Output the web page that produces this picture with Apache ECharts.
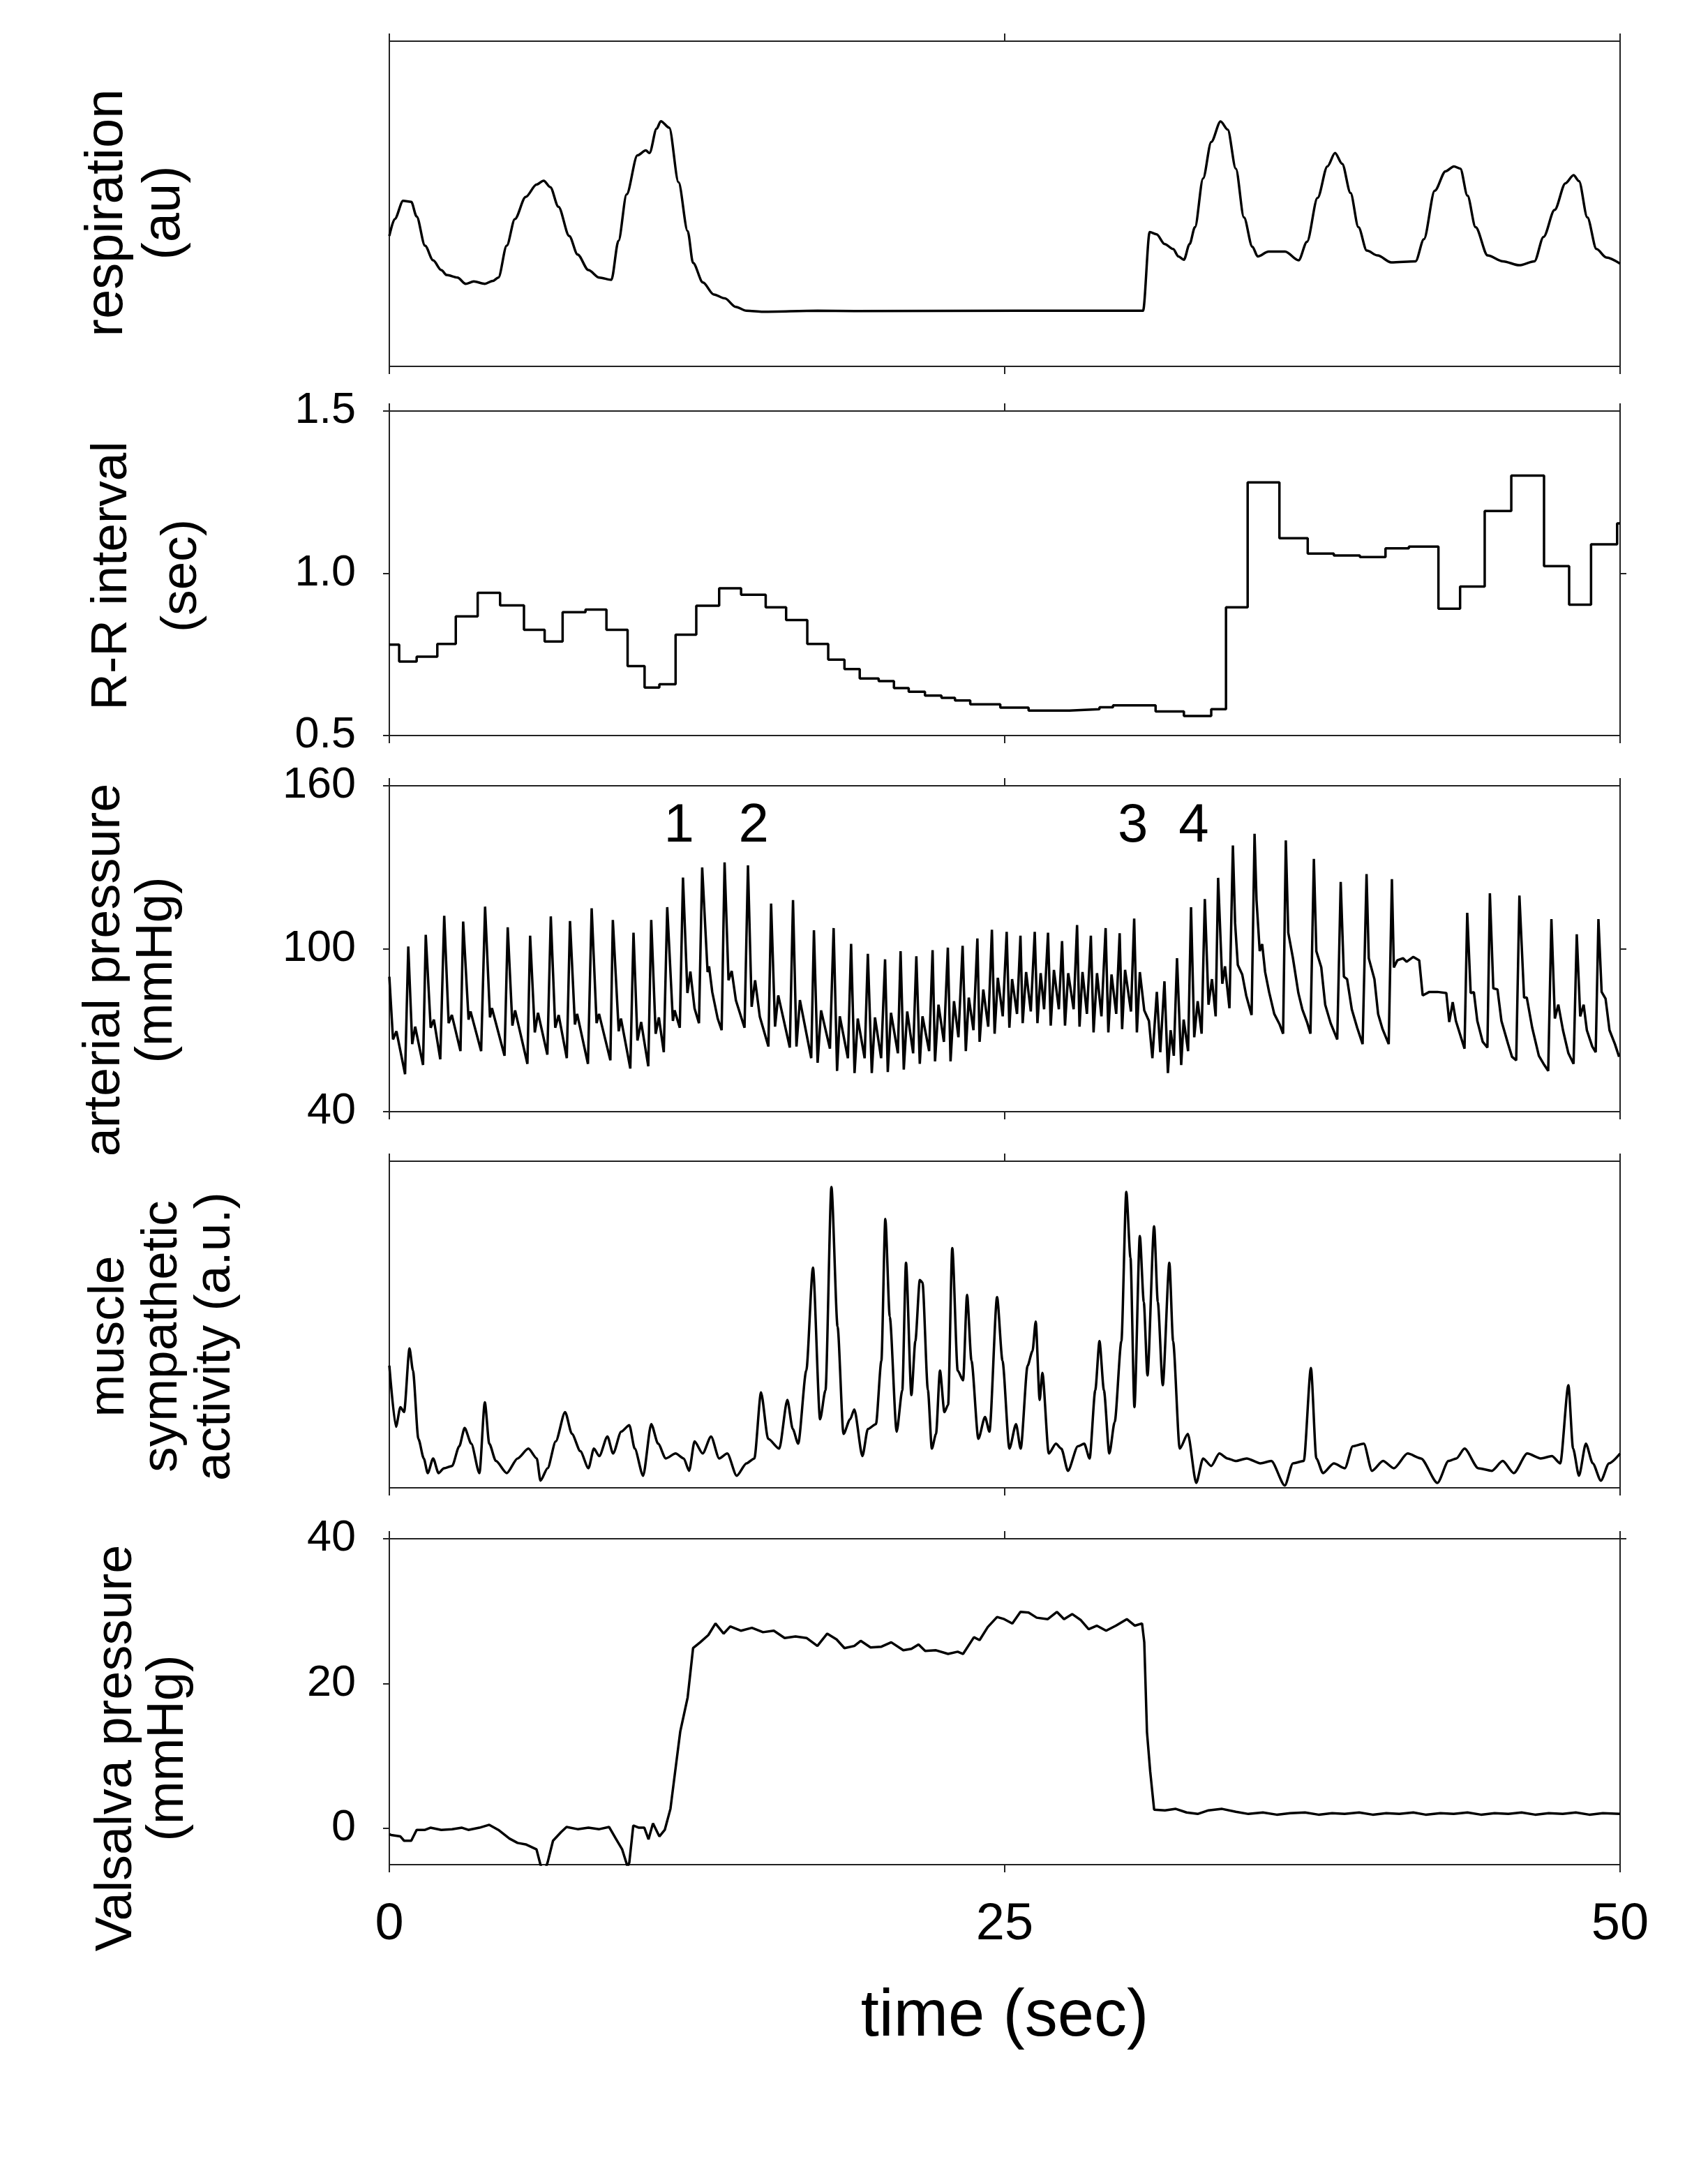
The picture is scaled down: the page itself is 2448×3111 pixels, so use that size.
<!DOCTYPE html>
<html><head><meta charset="utf-8">
<script src="https://cdn.jsdelivr.net/npm/echarts@6/dist/echarts.min.js"></script>
<style>html,body{margin:0;padding:0;background:#fff}#chart{width:2448px;height:3111px}</style>
</head><body><div id="chart"></div>
<script>
// ---------------- DATA (time in s, value) ----------------
const respiration = [[0,40.1],[0.22,45.3],[0.56,50.9],[0.89,50.6],[1.11,46.1],[1.45,37.1],[1.78,32.6],[2.11,29.6],[2.33,28.1],[2.77,27.3],[3.10,25.4],[3.43,26.1],[3.88,25.4],[4.21,26.3],[4.43,27.3],[4.77,37.1],[5.10,45.3],[5.54,52.1],[5.98,55.9],[6.27,57.1],[6.54,55.1],[6.87,49.1],[7.31,40.1],[7.65,34.4],[8.09,29.6],[8.53,27.3],[9.02,26.6],[9.31,38.6],[9.64,52.9],[10.08,64.9],[10.42,66.4],[10.57,65.6],[10.86,73.1],[11.03,75.4],[11.37,73.4],[11.75,56.6],[12.12,41.6],[12.34,31.8],[12.74,25.8],[13.18,22.1],[13.63,20.9],[14.07,18.3],[14.51,17.1],[15.18,16.8],[17.39,17.1],[18.89,17.0],[25.53,17.1],[30.62,17.1],[30.89,41.3],[31.17,40.6],[31.50,37.6],[31.84,36.1],[32.06,33.8],[32.28,32.8],[32.51,37.6],[32.73,42.8],[33.06,57.8],[33.39,69.0],[33.77,75.3],[34.06,72.8],[34.39,60.8],[34.72,45.8],[35.06,36.8],[35.28,33.8],[35.72,35.3],[36.39,35.3],[36.94,32.6],[37.28,38.3],[37.71,51.8],[38.11,61.5],[38.42,65.6],[38.71,62.3],[39.05,53.3],[39.37,42.8],[39.71,35.6],[40.15,34.1],[40.70,32.0],[41.69,32.3],[42.03,39.1],[42.47,54.0],[42.91,60.0],[43.25,61.5],[43.51,60.8],[43.80,52.5],[44.13,42.8],[44.62,34.1],[45.24,32.3],[45.90,31.1],[46.52,32.3],[46.89,39.8],[47.34,48.1],[47.78,56.3],[48.11,58.8],[48.33,57.0],[48.67,45.8],[49.04,36.1],[49.44,33.5],[50.00,31.6]];

// R-R interval: [start time of beat interval, interval (s)]
const rrInterval = [[0,0.780],[0.40,0.728],[1.11,0.743],[1.95,0.782],[2.70,0.867],[3.59,0.940],[4.50,0.901],[5.47,0.826],[6.31,0.790],[7.04,0.880],[7.97,0.888],[8.82,0.826],[9.68,0.714],[10.37,0.648],[10.97,0.658],[11.63,0.811],[12.47,0.900],[13.40,0.954],[14.29,0.934],[15.29,0.895],[16.12,0.856],[16.98,0.782],[17.83,0.734],[18.49,0.705],[19.11,0.676],[19.88,0.668],[20.50,0.646],[21.10,0.635],[21.76,0.623],[22.43,0.616],[22.98,0.608],[23.60,0.596],[24.82,0.586],[25.97,0.577],[27.63,0.581],[28.85,0.587],[29.40,0.593],[31.13,0.574],[32.28,0.560],[33.39,0.581],[33.99,0.895],[34.87,1.280],[36.16,1.108],[37.31,1.061],[38.37,1.055],[39.43,1.050],[40.47,1.077],[41.42,1.082],[42.62,0.891],[43.50,0.959],[44.50,1.192],[45.58,1.301],[46.91,1.022],[47.93,0.903],[48.82,1.089],[49.88,1.154],[50,1.154]];

const arterialPressure = [[0.00,89.7],[0.15,66.6],[0.29,69.6],[0.64,53.8],[0.77,100.8],[0.93,64.9],[1.05,71.3],[1.37,57.2],[1.48,105.1],[1.68,70.9],[1.81,73.9],[2.07,59.3],[2.23,112.1],[2.41,72.6],[2.54,75.6],[2.89,62.3],[3.00,110.0],[3.22,73.9],[3.30,76.9],[3.73,62.3],[3.89,115.5],[4.09,74.7],[4.17,78.1],[4.68,60.6],[4.81,107.9],[5.00,71.7],[5.11,77.3],[5.61,57.6],[5.72,104.8],[5.91,69.2],[6.04,76.4],[6.42,61.0],[6.56,111.9],[6.74,70.9],[6.88,75.6],[7.21,59.7],[7.34,110.2],[7.54,72.1],[7.63,76.0],[8.07,57.6],[8.22,114.9],[8.42,72.6],[8.52,76.0],[8.98,58.9],[9.08,110.6],[9.32,69.6],[9.41,74.3],[9.79,55.9],[9.92,105.9],[10.08,66.2],[10.23,73.0],[10.52,56.7],[10.64,110.6],[10.82,68.7],[10.95,74.7],[11.15,61.9],[11.29,115.3],[11.52,73.4],[11.59,77.3],[11.80,70.9],[11.93,126.2],[12.11,83.7],[12.23,91.6],[12.40,78.0],[12.58,72.6],[12.71,129.9],[12.93,91.4],[12.99,93.5],[13.12,84.0],[13.34,74.3],[13.50,70.0],[13.62,131.8],[13.78,88.4],[13.91,91.8],[14.08,81.0],[14.43,70.9],[14.57,130.7],[14.72,78.6],[14.86,88.4],[15.05,75.0],[15.40,64.0],[15.51,116.6],[15.67,71.3],[15.80,82.8],[16.27,63.6],[16.40,117.9],[16.54,64.0],[16.68,81.1],[17.14,59.7],[17.25,106.8],[17.40,58.0],[17.54,77.3],[17.90,63.2],[18.05,107.6],[18.19,55.0],[18.30,75.1],[18.63,59.7],[18.76,101.8],[18.90,54.2],[19.03,74.3],[19.31,59.7],[19.44,98.1],[19.60,54.2],[19.73,74.7],[19.98,59.7],[20.14,96.1],[20.25,54.6],[20.38,76.4],[20.66,61.5],[20.77,99.1],[20.90,55.5],[21.04,76.9],[21.28,61.5],[21.41,97.2],[21.55,57.6],[21.66,75.1],[21.93,62.3],[22.07,99.5],[22.17,58.5],[22.31,79.4],[22.53,65.7],[22.69,100.4],[22.80,58.5],[22.94,80.7],[23.12,67.4],[23.29,101.1],[23.42,62.3],[23.54,82.0],[23.73,70.0],[23.89,103.8],[23.98,65.7],[24.13,85.0],[24.33,71.3],[24.48,107.0],[24.59,68.7],[24.72,89.3],[24.92,75.1],[25.08,106.2],[25.19,70.9],[25.30,88.8],[25.50,76.0],[25.64,104.8],[25.73,72.6],[25.87,91.4],[26.06,76.9],[26.22,106.2],[26.33,72.6],[26.46,91.0],[26.60,77.7],[26.76,105.9],[26.87,71.7],[27.00,92.2],[27.20,77.7],[27.33,102.8],[27.45,71.7],[27.58,91.0],[27.80,77.7],[27.94,108.7],[28.04,71.3],[28.16,91.4],[28.34,76.0],[28.50,104.8],[28.61,69.2],[28.75,91.0],[28.93,75.1],[29.10,107.6],[29.21,69.2],[29.34,90.5],[29.53,76.0],[29.67,105.7],[29.77,70.4],[29.89,92.2],[30.13,76.9],[30.26,111.1],[30.37,69.2],[30.49,91.4],[30.67,77.3],[30.86,73.4],[31.00,59.7],[31.18,84.1],[31.32,61.9],[31.49,88.0],[31.63,54.2],[31.74,70.0],[31.87,60.6],[32.00,96.5],[32.17,57.2],[32.27,73.9],[32.45,62.3],[32.57,115.3],[32.70,67.4],[32.84,80.7],[33.00,68.7],[33.13,118.3],[33.28,79.4],[33.42,88.8],[33.57,75.1],[33.67,126.1],[33.84,87.1],[33.95,93.5],[34.13,78.1],[34.27,138.0],[34.36,109.4],[34.47,94.0],[34.65,90.5],[34.81,82.8],[35.03,75.6],[35.15,142.3],[35.23,117.9],[35.36,99.1],[35.46,101.7],[35.58,91.4],[35.74,84.1],[35.95,76.0],[36.17,72.1],[36.31,68.7],[36.42,139.9],[36.52,105.9],[36.71,96.5],[36.93,83.7],[37.09,77.7],[37.28,73.0],[37.42,68.7],[37.56,133.1],[37.66,99.1],[37.86,93.2],[38.02,79.4],[38.24,72.6],[38.51,66.6],[38.65,124.6],[38.78,89.7],[38.91,88.8],[39.10,77.7],[39.32,70.9],[39.54,64.9],[39.70,127.5],[39.79,96.5],[40.02,88.8],[40.17,76.0],[40.35,70.4],[40.60,64.9],[40.73,125.6],[40.81,93.1],[40.95,95.7],[41.18,96.5],[41.33,95.2],[41.60,97.0],[41.84,95.7],[41.98,82.8],[42.25,84.1],[42.58,84.1],[42.94,83.7],[43.06,73.0],[43.20,80.3],[43.33,73.4],[43.68,63.2],[43.79,113.2],[43.93,83.7],[44.06,84.0],[44.20,73.4],[44.42,65.7],[44.61,63.6],[44.71,120.4],[44.85,85.4],[45.02,85.0],[45.18,73.4],[45.45,64.9],[45.61,60.2],[45.78,58.9],[45.91,119.6],[46.10,82.0],[46.21,82.0],[46.43,70.9],[46.70,60.6],[46.92,57.2],[47.08,55.0],[47.21,110.9],[47.35,74.3],[47.49,79.4],[47.68,70.0],[47.90,61.5],[48.11,57.6],[48.24,105.3],[48.38,75.1],[48.52,79.4],[48.65,70.0],[48.87,64.0],[49.01,61.9],[49.12,110.9],[49.25,84.1],[49.41,81.6],[49.57,70.0],[49.79,64.9],[49.96,60.2]];

// beat labels on the arterial pressure trace: [time, mmHg, label]
const pressureMarks = [[11.77,145,'1'],[14.80,145,'2'],[30.21,145,'3'],[32.68,145,'4']];

const sympatheticActivity = [[0,37.4],[0.27,18.7],[0.45,24.7],[0.60,23.2],[0.82,42.7],[0.96,35.9],[1.18,15.0],[1.40,9.0],[1.56,4.5],[1.78,9.0],[2.00,4.5],[2.22,6.0],[2.55,6.7],[2.84,12.7],[3.06,18.3],[3.33,13.5],[3.66,4.5],[3.88,26.2],[4.06,13.5],[4.33,8.2],[4.77,4.5],[5.21,9.0],[5.65,12.0],[5.99,9.0],[6.14,2.2],[6.43,6.0],[6.76,14.2],[7.14,23.2],[7.42,16.5],[7.76,11.2],[8.09,6.0],[8.31,12.0],[8.53,9.7],[8.86,15.7],[9.09,10.5],[9.42,17.2],[9.75,19.2],[9.97,12.0],[10.31,3.7],[10.64,19.5],[10.92,13.5],[11.23,9.0],[11.63,10.5],[11.96,9.0],[12.18,5.2],[12.40,14.2],[12.73,10.5],[13.07,15.7],[13.40,9.0],[13.73,10.5],[14.11,3.7],[14.51,7.5],[14.83,9.0],[15.10,29.2],[15.39,15.0],[15.84,12.0],[16.17,26.9],[16.39,18.0],[16.61,13.5],[16.94,35.9],[17.21,67.4],[17.50,21.0],[17.72,29.9],[17.96,92.1],[18.21,49.4],[18.45,16.5],[18.72,21.0],[18.89,24.0],[19.22,9.7],[19.44,18.0],[19.77,19.5],[19.99,38.9],[20.15,82.3],[20.33,52.4],[20.61,17.2],[20.84,29.9],[20.99,68.9],[21.21,28.4],[21.37,44.9],[21.55,63.6],[21.66,62.9],[21.88,29.9],[22.04,12.0],[22.21,16.5],[22.37,35.9],[22.55,23.2],[22.70,25.4],[22.87,73.4],[23.09,35.9],[23.31,32.9],[23.47,59.1],[23.65,38.9],[23.93,15.0],[24.20,21.7],[24.38,17.2],[24.69,58.4],[24.91,38.9],[25.19,12.0],[25.46,19.5],[25.65,12.0],[25.93,37.4],[26.13,41.9],[26.26,50.9],[26.42,26.9],[26.53,35.2],[26.79,10.5],[27.08,13.5],[27.30,12.0],[27.57,5.2],[27.97,12.7],[28.23,13.5],[28.45,9.0],[28.68,29.9],[28.85,44.9],[29.03,29.9],[29.25,10.5],[29.47,20.2],[29.74,44.9],[29.94,90.6],[30.11,70.4],[30.27,24.7],[30.49,77.1],[30.65,56.9],[30.80,34.4],[31.07,80.1],[31.22,56.9],[31.42,31.4],[31.69,68.9],[31.84,44.9],[32.11,12.0],[32.44,16.5],[32.78,1.5],[33.06,9.0],[33.39,6.7],[33.72,10.5],[34.05,9.0],[34.39,8.2],[34.83,9.0],[35.39,7.5],[35.83,8.2],[36.38,0.7],[36.71,7.5],[37.15,8.2],[37.44,36.7],[37.66,9.0],[37.93,4.5],[38.37,7.5],[38.82,6.0],[39.14,12.7],[39.59,13.5],[39.92,5.2],[40.37,8.2],[40.81,6.0],[41.37,10.5],[41.91,9.0],[42.58,1.5],[43.03,8.2],[43.35,9.0],[43.68,12.0],[44.24,6.0],[44.79,5.2],[45.23,8.2],[45.68,4.5],[46.23,10.5],[46.78,9.0],[47.23,9.7],[47.57,7.5],[47.90,31.4],[48.09,12.0],[48.33,3.7],[48.61,13.5],[48.89,7.5],[49.22,2.2],[49.55,7.5],[50.00,10.5]];

const valsalvaPressure = [[0,-0.8],[0.07,-0.9],[0.45,-1.1],[0.60,-1.7],[0.89,-1.7],[1.11,-0.2],[1.45,-0.2],[1.67,0.1],[2.11,-0.2],[2.55,-0.1],[2.95,0.1],[3.21,-0.2],[3.66,0.1],[4.06,0.5],[4.43,-0.2],[4.88,-1.4],[5.21,-2.0],[5.54,-2.2],[5.98,-2.9],[6.14,-5.0],[6.27,-6.2],[6.43,-4.7],[6.65,-1.7],[6.98,-0.5],[7.20,0.2],[7.65,-0.1],[8.09,0.1],[8.53,-0.1],[8.93,0.2],[9.20,-1.4],[9.46,-2.9],[9.68,-5.3],[9.75,-4.7],[9.91,0.4],[10.14,0.1],[10.36,0.1],[10.53,-1.5],[10.71,0.7],[10.97,-1.1],[11.19,-0.2],[11.42,2.7],[11.64,8.6],[11.82,13.4],[12.12,18.1],[12.34,24.9],[12.63,25.7],[12.96,26.7],[13.25,28.3],[13.58,26.9],[13.85,27.9],[14.29,27.3],[14.73,27.7],[15.18,27.1],[15.62,27.3],[16.06,26.3],[16.50,26.5],[16.95,26.3],[17.39,25.2],[17.79,26.9],[18.17,26.1],[18.49,24.9],[18.89,25.2],[19.15,25.9],[19.55,25.0],[19.99,25.1],[20.39,25.7],[20.88,24.6],[21.21,24.8],[21.50,25.4],[21.77,24.5],[22.21,24.6],[22.70,24.1],[23.09,24.4],[23.31,24.1],[23.75,26.4],[23.98,26.0],[24.31,27.8],[24.69,29.2],[24.98,28.9],[25.31,28.3],[25.64,29.9],[25.97,29.8],[26.30,29.1],[26.75,28.9],[27.12,29.9],[27.41,28.9],[27.74,29.6],[28.08,28.8],[28.41,27.5],[28.74,28.0],[29.12,27.3],[29.52,28.0],[29.96,28.9],[30.29,28.0],[30.58,28.3],[30.67,25.7],[30.78,13.3],[30.91,7.9],[31.07,2.6],[31.51,2.5],[31.95,2.7],[32.39,2.2],[32.84,2.0],[33.28,2.5],[33.83,2.7],[34.39,2.3],[34.90,2.0],[35.49,2.2],[36.05,1.9],[36.60,2.1],[37.20,2.2],[37.75,1.9],[38.30,2.1],[38.81,2.0],[39.40,2.2],[39.95,1.9],[40.50,2.1],[41.03,2.0],[41.60,2.2],[42.10,1.9],[42.70,2.1],[43.24,2.0],[43.80,2.2],[44.35,1.9],[44.90,2.1],[45.46,2.0],[46.00,2.2],[46.55,1.9],[47.10,2.1],[47.67,2.0],[48.20,2.2],[48.75,1.9],[49.30,2.1],[50.00,2.0]];

const timeTicks = [0, 25, 50];
const rrTicks = [0.5, 1.0, 1.5];
const pressureTicks = [40, 100, 160];
const valsalvaTicks = [0, 20, 40];
const panelTitles = ['respiration\n(au)', 'R-R interval\n(sec)', 'arterial pressure\n(mmHg)', 'muscle\nsympathetic\nactivity (a.u.)', 'Valsalva pressure\n(mmHg)'];

// ---------------- LAYOUT / STYLE ----------------
const FAMILY = '"Liberation Sans", Arial, Helvetica, sans-serif';
const LEFT = 558, WIDTH = 1764;
const panels = [
  {top: 59,   height: 466, min: 0,   max: 100, data: respiration, smooth: 0.3, tx: 195, ty: 305, fs: 76, lh: 82},
  {top: 589,  height: 465, min: 0.5, max: 1.5, data: rrInterval, step: 'end', ticks: rrTicks, rticks: [1.0], fmt: v => v.toFixed(1), tx: 211, ty: 825, fs: 73, lh: 100},
  {top: 1126, height: 467, min: 40,  max: 160, data: arterialPressure, ticks: pressureTicks, rticks: [100], tx: 188, ty: 1390, fs: 74, lh: 75},
  {top: 1664, height: 468, min: 0,   max: 100, data: sympatheticActivity, smooth: 0.25, tx: 233, ty: 1915, fs: 73, lh: 76},
  {top: 2205, height: 467, min: -5,  max: 40,  data: valsalvaPressure, ticks: valsalvaTicks, rticks: [40], tx: 205, ty: 2505, fs: 74, lh: 74}
];
const lineSt = {color: '#222', width: 2};

const grid = [], xAxis = [], yAxis = [], series = [], graphic = [];
panels.forEach((p, i) => {
  const last = i === panels.length - 1;
  grid.push({left: LEFT, top: p.top, width: WIDTH, height: p.height, containLabel: false, outerBoundsMode: 'none'});
  xAxis.push({
    type: 'value', gridIndex: i, position: 'bottom', min: 0, max: 50, interval: 25,
    axisLine: {show: true, onZero: false, lineStyle: lineSt},
    axisTick: {show: true, length: 11, lineStyle: lineSt},
    axisLabel: {show: last, customValues: timeTicks, fontSize: 74, fontFamily: FAMILY, color: '#000', margin: 50, showMinLabel: true, showMaxLabel: true},
    splitLine: {show: false},
    name: last ? 'time (sec)' : '', nameLocation: 'middle', nameGap: 172,
    nameTextStyle: {fontSize: 94, fontFamily: FAMILY, color: '#000'}
  });
  xAxis.push({
    type: 'value', gridIndex: i, position: 'top', min: 0, max: 50, interval: 25,
    axisLine: {show: true, onZero: false, lineStyle: lineSt},
    axisTick: {show: true, length: 11, lineStyle: lineSt},
    axisLabel: {show: false}, splitLine: {show: false}
  });
  yAxis.push({
    type: 'value', gridIndex: i, position: 'left', min: p.min, max: p.max,
    axisLine: {show: true, onZero: false, lineStyle: lineSt},
    axisTick: {show: !!p.ticks, customValues: p.ticks, length: 9, lineStyle: lineSt},
    axisLabel: {show: !!p.ticks, customValues: p.ticks, formatter: p.fmt, fontSize: 63, fontFamily: FAMILY, color: '#000', margin: 48},
    splitLine: {show: false}
  });
  yAxis.push({
    type: 'value', gridIndex: i, position: 'right', min: p.min, max: p.max,
    axisLine: {show: true, onZero: false, lineStyle: lineSt},
    axisTick: {show: !!p.rticks, customValues: p.rticks, length: 9, lineStyle: lineSt},
    axisLabel: {show: false}, splitLine: {show: false}
  });
  series.push({
    type: 'line', xAxisIndex: 2 * i, yAxisIndex: 2 * i, data: p.data,
    step: p.step || false, smooth: p.smooth || false, smoothMonotone: 'x',
    showSymbol: false, symbol: 'none', clip: true,
    lineStyle: {color: '#000', width: 3.5}, silent: true, animation: false
  });
  graphic.push({
    type: 'text', x: p.tx, y: p.ty, rotation: Math.PI / 2, silent: true,
    style: {text: panelTitles[i], fontSize: p.fs, fontFamily: FAMILY, fill: '#000',
            lineHeight: p.lh, align: 'center', verticalAlign: 'middle',
            textAlign: 'center', textVerticalAlign: 'middle'}
  });
});

series.push({
  type: 'scatter', xAxisIndex: 4, yAxisIndex: 4, symbolSize: 0, silent: true, animation: false,
  itemStyle: {color: '#000'},
  label: {show: true, position: 'inside', formatter: d => d.name, fontSize: 78, fontFamily: FAMILY, color: '#000', textBorderWidth: 0, opacity: 1},
  data: pressureMarks.map(m => ({name: m[2], value: [m[0], m[1]]}))
});

const chart = echarts.init(document.getElementById('chart'), null, {renderer: 'canvas'});
chart.setOption({backgroundColor: '#fff', animation: false, grid, xAxis, yAxis, series, graphic});
</script>
</body></html>
